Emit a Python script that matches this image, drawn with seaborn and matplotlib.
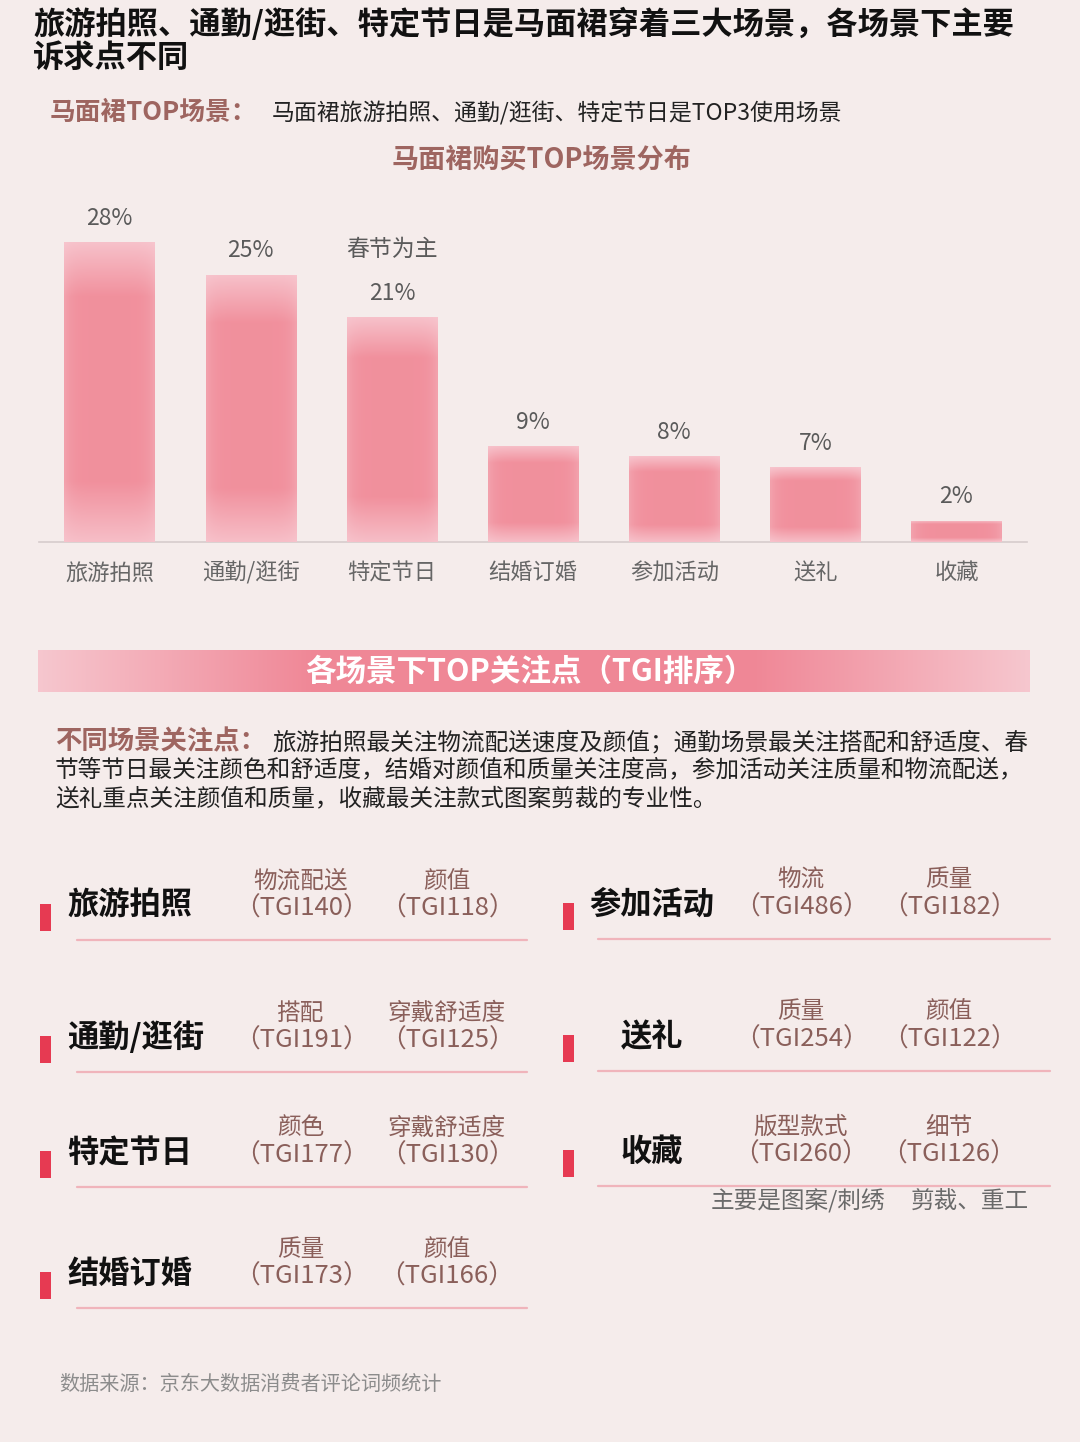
import numpy as np
import matplotlib
matplotlib.use('Agg')
import matplotlib.pyplot as plt
import seaborn as sns

# ---- data ----
scenes = ['旅游拍照', '通勤/逛街', '特定节日', '结婚订婚', '参加活动', '送礼', '收藏']
shares = [28, 25, 21, 9, 8, 7, 2]

focus1_names = ['物流配送', '搭配', '颜色', '质量', '物流', '质量', '版型款式']
focus1_tgi = [140, 191, 177, 173, 486, 254, 260]
focus2_names = ['颜值', '穿戴舒适度', '穿戴舒适度', '颜值', '质量', '颜值', '细节']
focus2_tgi = [118, 125, 130, 166, 182, 122, 126]

title_lines = ['旅游拍照、通勤/逛街、特定节日是马面裙穿着三大场景，各场景下主要', '诉求点不同']
sub_head = '马面裙TOP场景：'
sub_text = '马面裙旅游拍照、通勤/逛街、特定节日是TOP3使用场景'
chart_title = '马面裙购买TOP场景分布'
banner_text = '各场景下TOP关注点（TGI排序）'
para_head = '不同场景关注点：'
para_lines = ['旅游拍照最关注物流配送速度及颜值；通勤场景最关注搭配和舒适度、春',
              '节等节日最关注颜色和舒适度，结婚对颜值和质量关注度高，参加活动关注质量和物流配送，',
              '送礼重点关注颜值和质量，收藏最关注款式图案剪裁的专业性。']
note_festival = '春节为主'
note_collect = ['主要是图案/刺绣', '剪裁、重工']
source = '数据来源：京东大数据消费者评论词频统计'

# ---- style ----
sns.set_theme(style='white')
plt.rcParams['font.family'] = ['Noto Sans CJK SC', 'DejaVu Sans']

BG = '#f5eceb'
BROWN = '#9e6560'
ATTR = '#8a5f5a'
RED = '#e63a52'
LINE = '#f0b4bb'
GRAY = '#5a5a5a'

W, H = 1080, 1442
fig = plt.figure(figsize=(W / 100, H / 100), dpi=100, facecolor=BG)

# full-figure overlay in pixel coordinates
bg = fig.add_axes([0, 0, 1, 1])
bg.set_facecolor('none')
bg.axis('off')


def T(x, y, s, size, color='#111111', weight='normal', ha='left', va='center'):
    bg.text(x, y, s, fontsize=size, color=color, fontweight=weight, ha=ha, va=va)


# titles
T(33, 24, title_lines[0], 22.5, '#111111', 'bold')
T(33, 58, title_lines[1], 22.5, '#111111', 'bold')
T(50, 112, sub_head, 18.5, BROWN, 'bold')
T(272, 113, sub_text, 16.5, '#222222')
T(541, 160, chart_title, 19.5, BROWN, 'bold', ha='center')

# banner with gradient
xs = np.linspace(0, 1, 400)
prof = 1 - np.abs(xs - 0.5) * 2
prof = np.clip(prof * 1.8, 0, 1)
light = np.array([0.965, 0.78, 0.81])
deep = np.array([0.94, 0.53, 0.59])
img = light[None, None, :] + (deep - light)[None, None, :] * prof[None, :, None]
img = np.repeat(img, 10, axis=0)
bg.imshow(img, extent=[38, 1030, 692, 650], aspect='auto', zorder=1)
T(530, 672, banner_text, 22, 'white', 'bold', ha='center')

# paragraph
T(55, 742, para_head, 19, BROWN, 'bold')
T(272, 743, para_lines[0], 17, '#222222')
T(55, 771, para_lines[1], 17, '#222222')
T(55, 799, para_lines[2], 17, '#222222')

# scenario focus grid
left_rows = [906, 1038, 1153, 1274]
right_rows = [905, 1037, 1152]
for i, scene in enumerate(scenes):
    if i < 4:
        y = left_rows[i]
        mx, lx0, lx1 = 40, 77, 527
        c1, c2 = 301, 447
        T(67, y, scene, 22.5, '#111111', 'bold')
    else:
        y = right_rows[i - 4]
        mx, lx0, lx1 = 563, 598, 1050
        c1, c2 = 801, 949
        T(652, y, scene, 22.5, '#111111', 'bold', ha='center')
    bg.add_patch(plt.Rectangle((mx, y - 2), 11, 27, color=RED, lw=0, zorder=2))
    bg.plot([lx0, lx1], [y + 34, y + 34], color=LINE, lw=1.6, zorder=2)
    T(c1, y - 25, focus1_names[i], 17, ATTR, ha='center')
    T(c1, y + 3, f'（TGI{focus1_tgi[i]}）', 18.5, ATTR, ha='center')
    T(c2, y - 25, focus2_names[i], 17, ATTR, ha='center')
    T(c2, y + 3, f'（TGI{focus2_tgi[i]}）', 18.5, ATTR, ha='center')

T(711, 1201, note_collect[0], 17, '#6a6a6a')
T(911, 1201, note_collect[1], 17, '#6a6a6a')
T(59, 1385, source, 14.5, '#8c8c8c')

bg.set_xlim(0, W)
bg.set_ylim(H, 0)

# ---- bar chart ----
ax = fig.add_axes([39 / W, 1 - 542 / H, (1027 - 39) / W, 321 / H])
ax.set_facecolor('none')
sns.barplot(x=scenes, y=shares, color='#f28f9c', width=0.64, ax=ax, zorder=3)

for p in ax.patches:
    x0, y0, w, h = p.get_x(), p.get_y(), p.get_width(), p.get_height()
    t = np.linspace(0, 1, 200)
    m = np.ones_like(t)
    m = np.minimum(m, 0.25 + 0.75 * np.clip((1 - t) / 0.18, 0, 1))
    m = np.minimum(m, 0.3 + 0.7 * np.clip(t / 0.2, 0, 1))
    u = np.linspace(0, 1, 40)
    hm = 1 - 0.25 * (np.abs(u - 0.5) * 2) ** 6
    mm = m[:, None] * hm[None, :]
    lt = np.array([0.975, 0.82, 0.85])
    dp = np.array([0.945, 0.565, 0.615])
    im = lt[None, None, :] + (dp - lt)[None, None, :] * mm[:, :, None]
    gi = ax.imshow(im, extent=[x0, x0 + w, y0, y0 + h], origin='lower',
                   aspect='auto', zorder=3)
    gi.set_clip_path(p)
    p.set_facecolor('none')
    p.set_edgecolor('none')

for i, v in enumerate(shares):
    ax.annotate(f'{v}%', (i, v), xytext=(0, 17), textcoords='offset points',
                ha='center', va='center', fontsize=16.5, color=GRAY)
ax.annotate(note_festival, (2, shares[2]), xytext=(0, 49), textcoords='offset points',
            ha='center', va='center', fontsize=16.5, color=GRAY)

ax.set_xlim(-0.5, 6.5)
ax.set_ylim(0, 30)
ax.set_yticks([])
ax.set_xlabel('')
ax.set_ylabel('')
for s in ['top', 'right', 'left']:
    ax.spines[s].set_visible(False)
ax.spines['bottom'].set_color('#d6cccc')
ax.spines['bottom'].set_linewidth(1.2)
ax.tick_params(axis='x', length=0, pad=14, labelsize=16, labelcolor='#666666')

plt.savefig('out.png', dpi=100, facecolor=BG)
plt.close()
